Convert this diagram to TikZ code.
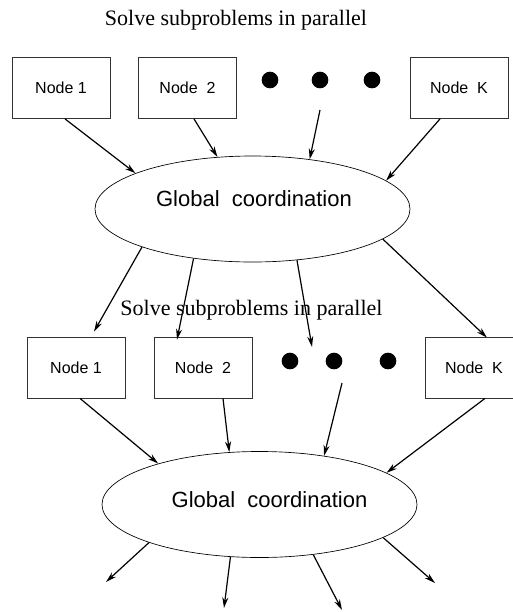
\documentclass[tikz,border=0pt]{standalone}
\usepackage{fontspec}
\setmainfont{Liberation Serif}
\setsansfont{Liberation Sans}
\usetikzlibrary{positioning,calc,arrows.meta,shapes.geometric}
\tikzset{
  proc/.style={draw=black!80, line width=0.6pt, minimum width=73.5pt,
    minimum height=45.75pt, inner sep=0pt, font=\sffamily\fontsize{12}{14}\selectfont},
  glob/.style={draw, ellipse, line width=0.5pt, minimum width=236.25pt,
    minimum height=79.5pt, inner sep=0pt},
  globtext/.style={font=\sffamily\fontsize{16.5}{19}\selectfont},
  bigdot/.style={circle, fill=black, minimum size=12.5pt, inner sep=0pt},
  title/.style={font=\fontsize{16.5}{19}\selectfont, anchor=base},
  flow/.style={-{Stealth[length=8pt,width=4.5pt,inset=2.5pt]}, line width=0.9pt},
}

\begin{document}
\begin{tikzpicture}[x=0.75pt,y=-0.75pt]
\useasboundingbox (0,0) rectangle (512,612);

% first round: subproblems, then coordination
\node[title] (head1) at (236,25) {Solve subproblems in parallel};
\node[proc] (t1) at (61,88) {Node 1};
\node[proc] (t2) at (187.5,88) {Node\ \ 2};
\node[bigdot] (tdot1) at (270,80) {};
\node[bigdot] (tdot2) at (320,80) {};
\node[bigdot] (tdot3) at (372,80) {};
\node[proc] (tK) at (459,88) {Node\ \ K};
\node[glob, label={[globtext, xshift=1.1pt, yshift=8pt]center:Global\ \ coordination}]
  (gc1) at (252.5,209) {};

\coordinate (tgap) at (320,110);
\draw[flow] ($(t1.south)+(4,0)$) -- (gc1.163);
\draw[flow] ($(t2.south)+(6.5,0)$) -- (gc1.124);
\draw[flow] (tgap) -- (gc1.41);
\draw[flow] ($(tK.south)+(-19,0)$) -- (gc1.12);

% second round
\node[proc] (b1) at (76,367.5) {Node 1};
\node[proc] (b2) at (203,367.5) {Node\ \ 2};
\node[bigdot] (bdot1) at (290,361) {};
\node[bigdot] (bdot2) at (334,361) {};
\node[bigdot] (bdot3) at (388,361) {};
\node[proc] (bK) at (474,367.5) {Node\ \ K};

\coordinate (bgap) at (312,347);
\draw[flow] (gc1.199) -- ($(b1.north)+(18,-5)$);
\draw[flow] (gc1.220) -- ($(b2.north)+(-26,3)$);
\draw[flow] (gc1.311) -- (bgap);
\draw[flow] (gc1.347) -- ($(bK.north)+(13,1)$);
\node[title] (head2) at (251.5,315) {Solve subproblems in parallel};

\node[glob, label={[globtext, xshift=7.5pt, yshift=3.4pt]center:Global\ \ coordination}]
  (gc2) at (259.5,504.5) {};

\coordinate (bgap2) at (342,383);
\draw[flow] ($(b1.south)+(4,0)$) -- (gc2.158);
\draw[flow] ($(b2.south)+(20,0)$) -- (gc2.120);
\draw[flow] (bgap2) -- (gc2.37);
\draw[flow] ($(bK.south)+(11,0)$) -- (gc2.14);

% results passed on
\coordinate (out1) at (106,582);
\coordinate (out2) at (224,608);
\coordinate (out3) at (342,610);
\coordinate (out4) at (435,583);
\draw[flow] (gc2.199) -- (out1);
\draw[flow] (gc2.241) -- (out2);
\draw[flow] (gc2.317) -- (out3);
\draw[flow] (gc2.345) -- (out4);
\end{tikzpicture}
\end{document}
